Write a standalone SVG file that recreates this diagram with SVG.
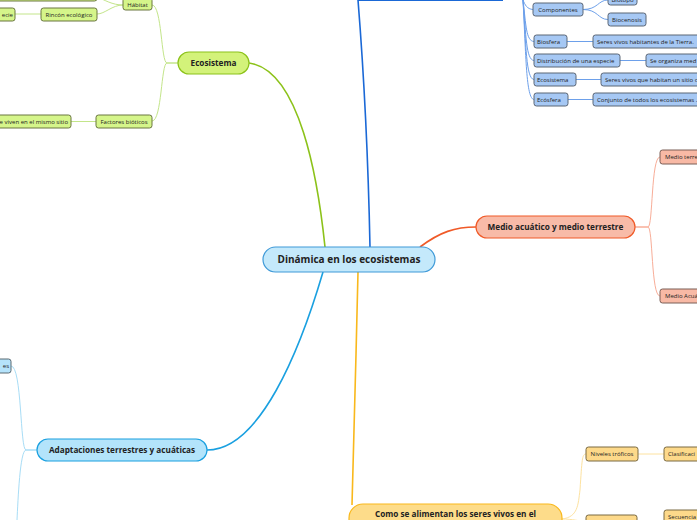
<svg xmlns="http://www.w3.org/2000/svg" width="697" height="520" viewBox="0 0 697 520">
<style>
text{font-family:"Open Sans","Liberation Sans",sans-serif;fill:#222}
.m{font-size:8.2px;font-weight:bold;text-anchor:middle}
.s{font-size:6px}
.c{text-anchor:middle}
.e{text-anchor:end}
.sb{fill:#a6c8f4;stroke:#5b6675;stroke-width:1}
.sg{fill:#d5f58a;stroke:#6a7640;stroke-width:1}
.so{fill:#f8b9a5;stroke:#7a5e56;stroke-width:1}
.sy{fill:#fdd98a;stroke:#7a6a42;stroke-width:1}
.sc{fill:#b5e3fb;stroke:#5a6a72;stroke-width:1}
path{fill:none}
</style>
<g id="connectors">
<path d="M249,63 C300,70 318,180 325,247" stroke="#8cc21a" stroke-width="1.6"/>
<path d="M370,247 C368,150 362,50 358,0" stroke="#1a68d6" stroke-width="1.6"/>
<path d="M420,247 C440,232 455,227 476,227" stroke="#f05a28" stroke-width="1.6"/>
<path d="M323,272 C300,350 260,450 207,450" stroke="#1aa0e0" stroke-width="1.6"/>
<path d="M358,272 C356,350 354,450 352,505" stroke="#f9b81c" stroke-width="1.6"/>
<g stroke="#c3e58a" stroke-width="1">
<path d="M178,63 L167,63 C161,63 162,5 152,5"/>
<path d="M178,63 L167,63 C161,63 162,121 152,121"/>
<path d="M123,5 C112,5 105,0 97,-3"/>
<path d="M123,5 C112,5 105,14 97,14"/>
<path d="M41,14 L15,14"/>
<path d="M96,121.5 L71,121.5"/>
</g>
<g stroke="#6da0ea" stroke-width="1">
<path d="M523,0 C525,5 527,9 533,9.5"/>
<path d="M523,0 C526,25 526,41 534,41.5"/>
<path d="M523,0 C526,35 526,60 534,60.5"/>
<path d="M523,0 C526,45 526,79 534,79.5"/>
<path d="M523,0 C526,55 526,99 534,99.5"/>
<path d="M583,9.5 C598,9.5 598,0 608,0"/>
<path d="M583,9.5 C598,9.5 598,19.5 608,19.5"/>
<path d="M567,41.5 L593,41.5"/>
<path d="M620,60.5 L646,60.5"/>
<path d="M576,79.5 L601,79.5"/>
<path d="M568,99.5 L593,99.5"/>
</g>
<g stroke="#f8ad98" stroke-width="1">
<path d="M635,227 L648,227 C653,227 651,157 660,157"/>
<path d="M635,227 L648,227 C653,227 651,296 660,296"/>
</g>
<g stroke="#a8ddf6" stroke-width="1">
<path d="M37,450 L26,450 C20,450 22,366 11,366"/>
<path d="M37,450 L26,450 C20,450 18,500 17,520"/>
</g>
<g stroke="#fde2a0" stroke-width="1">
<path d="M562,519 C578,517 578,505 580,490 C582,460 582,454 586,454"/>
<path d="M562,519 C572,519 580,521 586,522"/>
<path d="M638,454 L664,454"/>
</g>
</g>
<g id="central">
<rect x="263" y="247" width="172" height="25" rx="12.5" fill="#c4e9fb" stroke="#3f9ad8" stroke-width="1.2"/>
<text x="349" y="263" class="c" style="font-size:10px;font-weight:bold">Dinámica en los ecosistemas</text>
</g>
<g id="ecosistema">
<rect x="178" y="52" width="71" height="22" rx="11" fill="#d3f27a" stroke="#8cc21a" stroke-width="1.2"/>
<text x="213.5" y="66" class="m">Ecosistema</text>
</g>
<g id="medio">
<rect x="476" y="216" width="159" height="22" rx="11" fill="#f8bba8" stroke="#f05a28" stroke-width="1.2"/>
<text x="555.5" y="230" class="m">Medio acuático y medio terrestre</text>
</g>
<g id="adaptaciones">
<rect x="37" y="439" width="170" height="22" rx="11" fill="#b3e4fb" stroke="#1aa0e0" stroke-width="1.2"/>
<text x="122" y="453" class="m">Adaptaciones terrestres y acuáticas</text>
</g>
<g id="alimentan">
<rect x="349" y="504" width="213" height="34" rx="14" fill="#fddc8a" stroke="#f9b81c" stroke-width="1.2"/>
<text x="455.5" y="517" class="m">Como se alimentan los seres vivos en el</text>
</g>
<g id="top-node">
<path d="M358,0.5 L503,0.5" stroke="#1a68d6" stroke-width="1.2"/>
</g>
<g id="n-habitat"><rect x="123" y="-2" width="29" height="12" rx="2.5" class="sg"/><text x="137.5" y="6.5" class="s c">Hábitat</text></g>
<g id="n-topgreen"><rect x="-20" y="-13" width="117" height="14" rx="2.5" class="sg"/></g>
<g id="n-rincon"><rect x="41" y="8" width="56" height="13" rx="2.5" class="sg"/><text x="69" y="16.5" class="s c">Rincón ecológico</text></g>
<g id="n-especie"><rect x="-30" y="8" width="45" height="13" rx="2.5" class="sg"/><text x="13" y="16.5" class="s e">ecie</text></g>
<g id="n-factores"><rect x="96" y="115" width="56" height="13" rx="2.5" class="sg"/><text x="124" y="123.5" class="s c">Factores bióticos</text></g>
<g id="n-viven"><rect x="-40" y="115" width="111" height="13" rx="2.5" class="sg"/><text x="68" y="123.5" class="s e">e viven en el mismo sitio</text></g>
<g id="n-componentes"><rect x="533" y="3" width="50" height="13" rx="2.5" class="sb"/><text x="558" y="11.5" class="s c">Componentes</text></g>
<g id="n-biotopo"><rect x="608" y="-7" width="29" height="12" rx="2.5" class="sb"/><text x="622.5" y="2" class="s c">Biotopo</text></g>
<g id="n-biocenosis"><rect x="608" y="13" width="38" height="13" rx="2.5" class="sb"/><text x="627" y="21.5" class="s c">Biocenosis</text></g>
<g id="n-biosfera"><rect x="534" y="35" width="33" height="13" rx="2.5" class="sb"/><text x="537" y="43.5" class="s">Biosfera</text></g>
<g id="n-seres1"><rect x="593" y="35" width="112" height="13" rx="2.5" class="sb"/><text x="597" y="43.5" class="s">Seres vivos habitantes de la Tierra.</text></g>
<g id="n-distribucion"><rect x="534" y="54" width="86" height="13" rx="2.5" class="sb"/><text x="537" y="62.5" class="s">Distribución de una especie</text></g>
<g id="n-organiza"><rect x="646" y="54" width="60" height="13" rx="2.5" class="sb"/><text x="650" y="62.5" class="s">Se organiza med</text></g>
<g id="n-ecosistema2"><rect x="534" y="73" width="42" height="13" rx="2.5" class="sb"/><text x="537" y="81.5" class="s">Ecosistema</text></g>
<g id="n-seres2"><rect x="601" y="73" width="106" height="13" rx="2.5" class="sb"/><text x="605" y="81.5" class="s">Seres vivos que habitan un sitio c</text></g>
<g id="n-ecosfera"><rect x="534" y="93" width="34" height="13" rx="2.5" class="sb"/><text x="537" y="101.5" class="s">Ecósfera</text></g>
<g id="n-conjunto"><rect x="593" y="93" width="112" height="13" rx="2.5" class="sb"/><text x="597" y="101.5" class="s">Conjunto de todos los ecosistemas ..</text></g>
<g id="n-terrestre"><rect x="660" y="150" width="45" height="14" rx="2.5" class="so"/><text x="665" y="159" class="s">Medio terre</text></g>
<g id="n-acuatico"><rect x="660" y="289" width="45" height="14" rx="2.5" class="so"/><text x="665" y="298" class="s">Medio Acuá</text></g>
<g id="n-es"><rect x="-30" y="359" width="41" height="14" rx="2.5" class="sc"/><text x="9" y="368" class="s e">es</text></g>
<g id="n-niveles"><rect x="586" y="447" width="52" height="14" rx="2.5" class="sy"/><text x="612" y="456" class="s c">Niveles tróficos</text></g>
<g id="n-clasificacion"><rect x="664" y="447" width="45" height="14" rx="2.5" class="sy"/><text x="668" y="456" class="s">Clasificaci</text></g>
<g id="n-cadena"><rect x="586" y="515" width="51" height="14" rx="2.5" class="sy"/></g>
<g id="n-secuencia"><rect x="664" y="510" width="45" height="16" rx="2.5" class="sy"/><text x="668" y="519" class="s">Secuencia</text></g>
</svg>
